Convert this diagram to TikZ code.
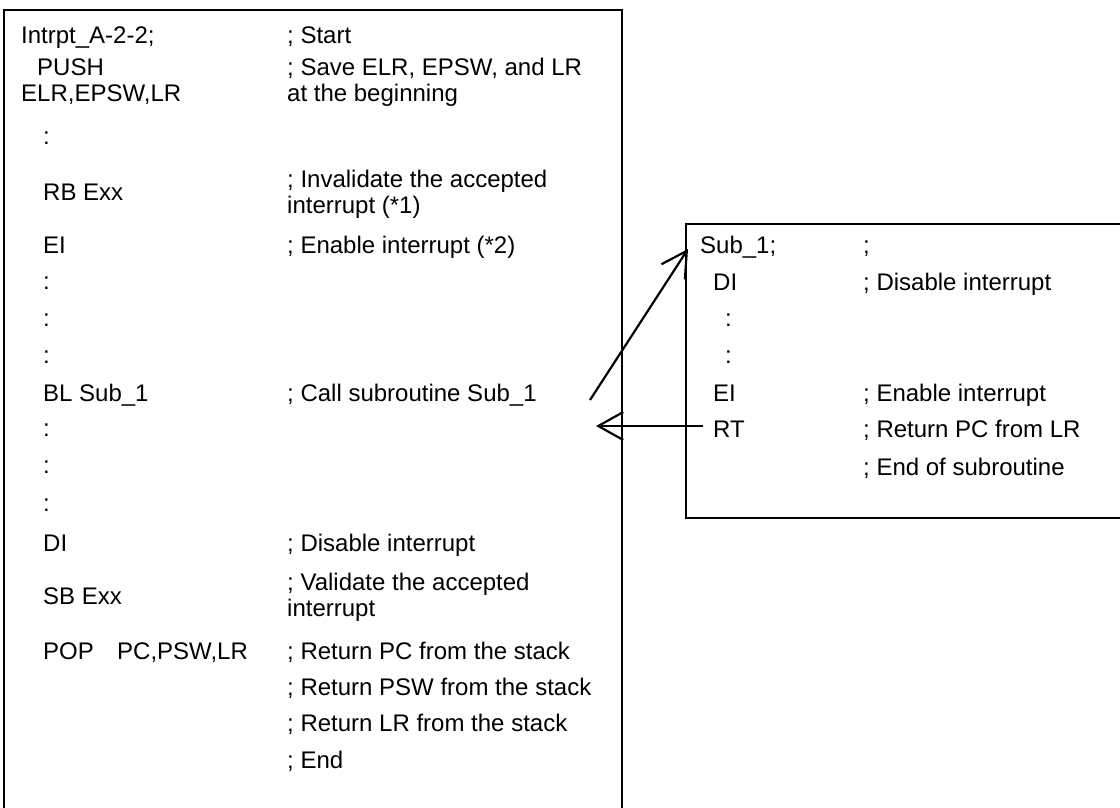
\documentclass[tikz,border=0pt]{standalone}
\usepackage{fontspec}
\setmainfont{Liberation Sans}
\usetikzlibrary{arrows.meta}
\begin{document}
\begin{tikzpicture}[x=1pt,y=-1pt,
  txt/.style={anchor=base west, inner sep=0pt, font=\fontsize{24}{28}\selectfont},
  box/.style={draw, line width=2.2pt},
  arr/.style={line width=2.2pt, -{Straight Barb[length=25pt,width=28pt,line width=2.2pt]}}]
\useasboundingbox (0,0) rectangle (1120,807);
\begin{scope}
\clip (0,0) rectangle (1120,807);
\draw[box] (4,10) rectangle (622,840);
\draw[box] (686,224) rectangle (1150,518);
\end{scope}
% left listing
\node[txt] (L1) at (21,43.6) {Intrpt\_A-2-2;};
\node[txt] (C1) at (287,43.6) {; Start};
\node[txt] (L2) at (37,75.6) {PUSH};
\node[txt] (C2) at (287,75.6) {; Save ELR, EPSW, and LR};
\node[txt] (L3) at (21,101.6) {ELR,EPSW,LR};
\node[txt] (C3) at (287,101.6) {at the beginning};
\node[txt] (L4) at (43,144) {:};
\node[txt] (L5) at (43,200.6) {RB Exx};
\node[txt] (C5a) at (287,187.6) {; Invalidate the accepted};
\node[txt] (C5b) at (287,213.6) {interrupt (*1)};
\node[txt] (L6) at (43,253.6) {EI};
\node[txt] (C6) at (287,253.6) {; Enable interrupt (*2)};
\node[txt] (L7) at (43,289) {:};
\node[txt] (L8) at (43,326) {:};
\node[txt] (L9) at (43,363) {:};
\node[txt] (L10) at (43,401.6) {BL Sub\_1};
\node[txt] (C10) at (287,401.6) {; Call subroutine Sub\_1};
\node[txt] (L11) at (43,436) {:};
\node[txt] (L12) at (43,473) {:};
\node[txt] (L13) at (43,511) {:};
\node[txt] (L14) at (43,551.6) {DI};
\node[txt] (C14) at (287,551.6) {; Disable interrupt};
\node[txt] (L15) at (43,604.6) {SB Exx};
\node[txt] (C15a) at (287,590.6) {; Validate the accepted};
\node[txt] (C15b) at (287,616.6) {interrupt};
\node[txt] (L16) at (43,659.6) {POP};
\node[txt] (L16b) at (117,659.6) {PC,PSW,LR};
\node[txt] (C16) at (287,659.6) {; Return PC from the stack};
\node[txt] (C17) at (287,695.6) {; Return PSW from the stack};
\node[txt] (C18) at (287,731.6) {; Return LR from the stack};
\node[txt] (C19) at (287,768.6) {; End};
% right listing
\node[txt] (R1) at (700,253.6) {Sub\_1;};
\node[txt] (RC1) at (863,253.6) {;};
\node[txt] (R2) at (713,290.6) {DI};
\node[txt] (RC2) at (863,290.6) {; Disable interrupt};
\node[txt] (R3) at (725,326) {:};
\node[txt] (R4) at (725,363) {:};
\node[txt] (R5) at (713,401.6) {EI};
\node[txt] (RC5) at (863,401.6) {; Enable interrupt};
\node[txt] (R6) at (713,437.6) {RT};
\node[txt] (RC6) at (863,437.6) {; Return PC from LR};
\node[txt] (RC7) at (863,475.6) {; End of subroutine};
% arrows
\coordinate (callS) at (590,400);
\coordinate (callE) at (688,249);
\draw[arr] (callS) -- (callE);
\coordinate (retS) at (703,426);
\coordinate (retE) at (596,426);
\draw[arr] (retS) -- (retE);
\end{tikzpicture}
\end{document}
